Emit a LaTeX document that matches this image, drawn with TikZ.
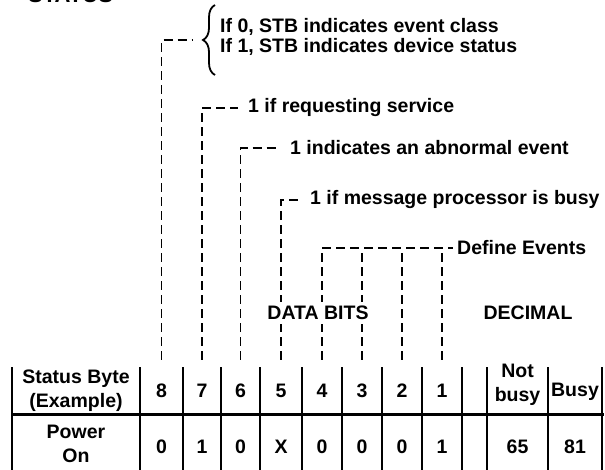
\documentclass[tikz,border=0pt]{standalone}
\usepackage{fontspec}
\setmainfont{Liberation Sans}
\usetikzlibrary{positioning, calc, decorations.pathreplacing}

\begin{document}
\begin{tikzpicture}[
  x=1pt, y=-1pt,
  font=\fontsize{19.5}{24}\selectfont\bfseries,
  txt/.style={inner sep=0pt, anchor=west},
  cell/.style={inner sep=0pt, align=center, minimum height=47pt},
  rule/.style={line width=1.8pt},
  lead/.style={line width=1.9pt, dash pattern=on 9pt off 5pt, shorten <=7pt},
  brc/.style={line width=1.8pt, decorate, decoration={brace, amplitude=12pt, aspect=0.5}},
]
  \useasboundingbox (0,0) rectangle (605,470);
  \clip (0,0) rectangle (605,470);

  % --- heading (cut off at the top) ---
  \node[anchor=base west, inner sep=0pt, font=\fontsize{22}{24}\selectfont\bfseries]
    (head) at (28,3) {STATUS};

  % --- table ---
  \foreach \x in {12,140,183,221,260,302,342,382,422,462,487,548,602}
    \draw[rule] (\x,367) -- (\x,470);
  \draw[line width=3pt] (12,414) -- (604,414);

  \node[cell] (sb) at (76,390.5) {Status Byte\\(Example)};
  \node[cell] (pw) at (76,444) {Power\\On};
  \foreach \b/\x/\v in {8/161.5/0, 7/202/1, 6/240.5/0, 5/281/X,
                        4/322/0, 3/362/0, 2/402/0, 1/442/1} {
    \node[cell] (h\b) at (\x,390.5) {\b};
    \node[cell] (v\b) at (\x,447) {\v};
  }
  \node[cell] (nb) at (517.5,385) {Not\\busy};
  \node[cell] (bz) at (575,392) {Busy};
  \node[cell] (n65) at (517.5,447) {65};
  \node[cell] (n81) at (575,447) {81};

  % --- bit descriptions ---
  \node[txt] (stb0) at (220,27) {If 0, STB indicates event class};
  \node[txt] (stb1) at (220,47) {If 1, STB indicates device status};
  \coordinate (brb) at (215,75);
  \coordinate (brt) at (215,5);
  \coordinate (brtip) at (203,40);
  \draw[brc] (brb) -- (brt);

  \node[txt] (req) at (248,108) {1 if requesting service};
  \node[txt] (abn) at (290,148) {1 indicates an abnormal event};
  \node[txt] (mpb) at (310,200) {1 if message processor is busy};
  \node[txt] (def) at (457,248) {Define Events};

  % --- leaders ---
  \draw[lead, shorten >=10pt] (h8.north) |- (brtip);
  \draw[lead, shorten >=10pt] (h7.north) |- (req.west);
  \draw[lead, shorten >=11pt] (h6.north) |- (abn.west);
  \draw[lead, shorten >=10pt] (h5.north) |- (mpb.west);
  \draw[lead, shorten >=4pt] (h4.north) |- (def.west);
  \foreach \b in {3,2,1}
    \draw[lead] (h\b.north) -- (h\b.north |- def.west);

  % --- group labels ---
  \node[fill=white, inner sep=4pt] (dbits) at (318,313) {DATA BITS};
  \node[inner sep=0pt] (dec) at (528,313) {DECIMAL};
\end{tikzpicture}
\end{document}
